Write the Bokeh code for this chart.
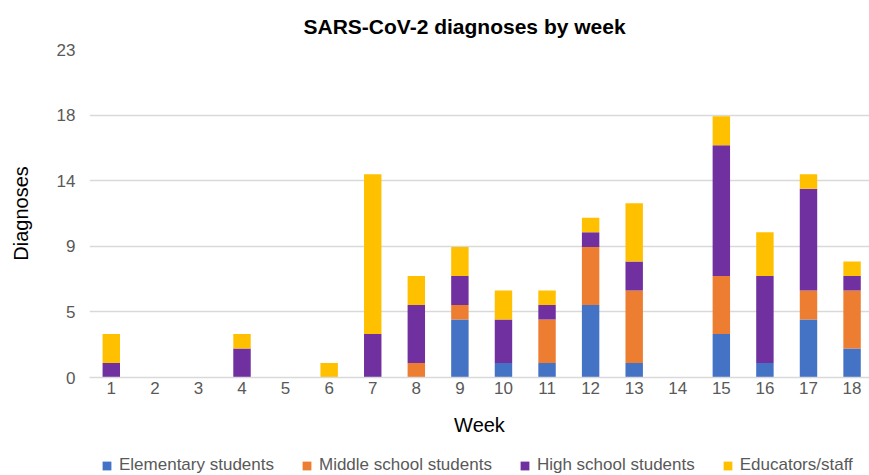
from bokeh.plotting import figure
from bokeh.layouts import column
from bokeh.models import (Range1d, FixedTicker, PrintfTickFormatter, Legend, LegendItem,
                          ColumnDataSource)
from bokeh.embed import file_html
from bokeh.resources import INLINE

# ---- data ----
weeks = list(range(1, 19))
elementary = [0, 0, 0, 0, 0, 0, 0, 0, 4, 1, 1, 5, 1, 0, 3, 1, 4, 2]
middle =     [0, 0, 0, 0, 0, 0, 0, 1, 1, 0, 3, 4, 5, 0, 4, 0, 2, 4]
high =       [1, 0, 0, 2, 0, 0, 3, 4, 2, 3, 1, 1, 2, 0, 9, 6, 7, 1]
educators =  [2, 0, 0, 1, 0, 1, 11, 2, 2, 2, 1, 1, 4, 0, 2, 3, 1, 1]
series_names = ["Elementary students", "Middle school students",
                "High school students", "Educators/staff"]
series_keys = ["elementary", "middle", "high", "educators"]
colors = ["#4472C4", "#ED7D31", "#7030A0", "#FFC000"]
y_max = 22.6
y_ticks = [0, 4.52, 9.04, 13.56, 18.08, 22.6]

FONT = "Liberation Sans"

source = ColumnDataSource(dict(week=weeks, elementary=elementary, middle=middle,
                               high=high, educators=educators))

p = figure(width=869, height=451, output_backend="svg",
           toolbar_location=None, tools="",
           x_range=Range1d(0.5, 18.4), y_range=Range1d(0, y_max),
           min_border_left=89, min_border_right=0, min_border_top=49,
           min_border_bottom=74)

renderers = p.vbar_stack(series_keys, x="week", width=0.4, source=source,
                         color=colors, line_color=None)

# title
p.title.text = "SARS-CoV-2 diagnoses by week"
p.title.align = "left"
p.title.text_font = FONT
p.title.text_font_size = "21px"
p.title.text_font_style = "bold"
p.title.text_color = "#000000"
p.title.offset = 214
p.title.standoff = 24

# axes
p.xaxis.ticker = FixedTicker(ticks=weeks)
p.yaxis.ticker = FixedTicker(ticks=y_ticks)
p.yaxis.formatter = PrintfTickFormatter(format="%.0f")
for ax in (p.xaxis[0], p.yaxis[0]):
    ax.major_label_text_font = FONT
    ax.major_label_text_font_size = "17px"
    ax.major_label_text_color = "#595959"
    ax.axis_label_text_font = FONT
    ax.axis_label_text_font_size = "20px"
    ax.axis_label_text_font_style = "normal"
    ax.axis_label_text_color = "#000000"
    ax.major_tick_line_color = None
    ax.minor_tick_line_color = None
    ax.major_tick_out = 0
    ax.major_tick_in = 0
    ax.minor_tick_out = 0

p.xaxis.axis_label = "Week"
p.xaxis.axis_line_color = "#D9D9D9"
p.xaxis.axis_line_width = 1.5
p.xaxis.major_label_standoff = 4
p.xaxis.axis_label_standoff = 17

p.yaxis.axis_label = "Diagnoses"
p.yaxis.axis_line_color = None
p.yaxis.major_label_standoff = 14
p.yaxis.axis_label_standoff = 22

# grid
p.xgrid.grid_line_color = None
p.ygrid.grid_line_color = "#D9D9D9"
p.ygrid.grid_line_width = 1.5
p.outline_line_color = None

# ---- legend strip underneath (its own small figure, frame aligned with the chart) ----
# the stacked bars here sit outside this strip's visible y-range; only the legend shows
lg = figure(width=869, height=24, output_backend="svg", toolbar_location=None,
            tools="", x_axis_type=None, y_axis_type=None,
            x_range=Range1d(0.5, 18.4), y_range=Range1d(1000, 1001),
            min_border_left=0, min_border_right=0, min_border_top=0,
            min_border_bottom=0)
lg.outline_line_color = None
lg_renderers = lg.vbar_stack(series_keys, x="week", width=0.4, source=source,
                             color=colors, line_color=None)
items = [LegendItem(label=n, renderers=[r]) for n, r in zip(series_names, lg_renderers)]
legend = Legend(items=items, orientation="horizontal", location=(12, 0),
                label_text_font=FONT, label_text_font_size="17px",
                label_text_color="#595959", glyph_width=11, glyph_height=11,
                label_standoff=7, spacing=27, padding=0, margin=0,
                border_line_color=None, background_fill_alpha=0)
lg.add_layout(legend)

layout = column(p, lg, spacing=0)
open("out.html", "w").write(file_html(layout, INLINE))
